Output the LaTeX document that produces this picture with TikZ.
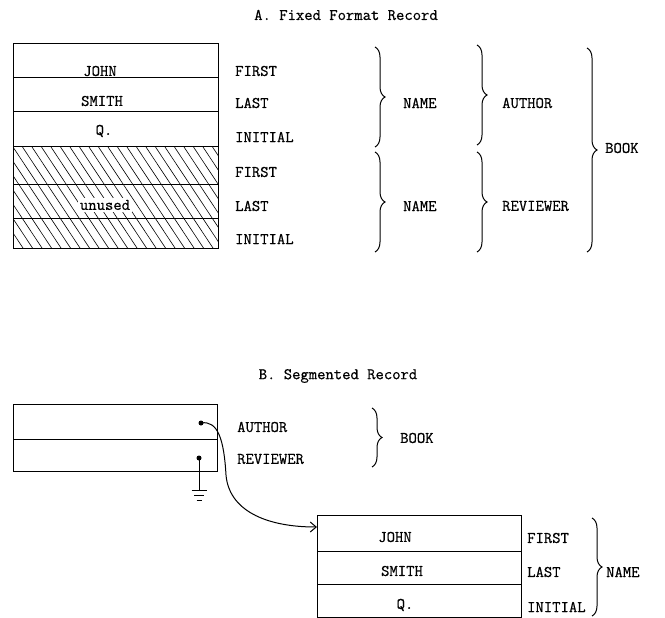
\documentclass[tikz,border=0pt]{standalone}
\usepackage{fontspec}
\newfontfamily\tw[FakeBold=0.6]{Latin Modern Mono}
\usetikzlibrary{decorations.pathreplacing,arrows.meta}
\tikzset{
  cell/.style={draw, line width=1pt, minimum width=205pt, inner sep=0pt, outer sep=0pt},
  txt/.style={inner sep=0pt, font=\tw\fontsize{16.2pt}{19pt}\selectfont},
  lbl/.style={txt, anchor=west},
  brc/.style={decorate, decoration={brace, amplitude=10pt}, line width=1pt},
  dotnode/.style={circle, fill=black, inner sep=0pt, minimum size=5pt},
  hatch/.style={line width=0.6pt},
}
\begin{document}
\begin{tikzpicture}[x=1pt, y=-1pt]
\useasboundingbox (0,0) rectangle (665,618);
% ---------- A ----------
\node[txt] (titleA) at (346,15) {A. Fixed Format Record};
% hatching
\begin{scope}
  \clip (13,147) rectangle (218,248);
  \foreach \i in {-8,...,22} \draw[hatch] (13+\i*9.5,147) -- ++(67,101);
\end{scope}
\node[cell, minimum height=34pt] (a1) at (115.5,61) {};
\node[cell, minimum height=34pt] (a2) at (115.5,95) {};
\node[cell, minimum height=35pt] (a3) at (115.5,129.5) {};
\node[cell, minimum height=37pt] (a4) at (115.5,165.5) {};
\node[cell, minimum height=34pt] (a5) at (115.5,201) {};
\node[cell, minimum height=30pt] (a6) at (115.5,233) {};
\node[txt] (tjohn) at (100,71) {JOHN};
\node[txt] (tsmith) at (102,101) {SMITH};
\node[txt] (tq) at (104,131) {Q.};
\node[txt, fill=white, inner sep=2pt] (tunused) at (105,205) {unused};
\node[lbl] (lf1) at (235,71) {FIRST};
\node[lbl] (ll1) at (235,103) {LAST};
\node[lbl] (li1) at (235,137) {INITIAL};
\node[lbl] (lf2) at (235,172) {FIRST};
\node[lbl] (ll2) at (235,206) {LAST};
\node[lbl] (li2) at (235,239) {INITIAL};
\draw[brc] (375,47) -- (375,147);
\node[lbl] (n1) at (403,103) {NAME};
\draw[brc] (375,152) -- (375,252);
\node[lbl] (n2) at (403,206) {NAME};
\draw[brc] (477,45) -- (477,145);
\node[lbl] (au) at (502,103) {AUTHOR};
\draw[brc] (477,152) -- (477,252);
\node[lbl] (rv) at (502,206) {REVIEWER};
\draw[brc] (587,48) -- (587,252);
\node[lbl] (bk) at (605,148) {BOOK};
% ---------- B ----------
\node[txt] (titleB) at (338,376) {B. Segmented Record};
\node[cell, minimum width=204pt, minimum height=35pt] (b1) at (115,421.5) {};
\node[cell, minimum width=204pt, minimum height=32pt] (b2) at (115,455) {};
\node[lbl] (bau) at (237,427) {AUTHOR};
\node[lbl] (brv) at (237,459) {REVIEWER};
\draw[brc] (372,408) -- (372,467);
\node[lbl] (bbk) at (400,438) {BOOK};
\node[dotnode] (adot) at (201,423) {};
\node[dotnode] (rdot) at (199,458) {};
\draw[line width=1pt] (rdot.center) -- (199,490) coordinate (gnd);
\draw[line width=0.9pt] ([xshift=-7.5pt]gnd) -- ([xshift=7.5pt]gnd);
\draw[line width=0.9pt] ([xshift=-5pt,yshift=-5pt]gnd) -- ([xshift=5pt,yshift=-5pt]gnd);
\draw[line width=0.9pt] ([xshift=-2.5pt,yshift=-10pt]gnd) -- ([xshift=2.5pt,yshift=-10pt]gnd);
% segment box
\node[cell, minimum width=204pt, minimum height=36pt] (c1) at (419,533) {};
\node[cell, minimum width=204pt, minimum height=33pt] (c2) at (419,567.5) {};
\node[cell, minimum width=204pt, minimum height=33pt] (c3) at (419,600.5) {};
\node[txt] (cjohn) at (395,537) {JOHN};
\node[txt] (csmith) at (402,571) {SMITH};
\node[txt] (cq) at (405,605) {Q.};
\node[lbl] (cf) at (527,538) {FIRST};
\node[lbl] (cl) at (527,572) {LAST};
\node[lbl] (ci) at (527,607) {INITIAL};
\draw[brc] (592,518) -- (592,616);
\node[lbl] (cn) at (606,572) {NAME};
% pointer
\draw[line width=1pt, -{Straight Barb[length=6pt,width=10pt]}]
  (adot.center) .. controls (218,420) and (224,440) .. (226,475)
  .. controls (229,510) and (265,527) .. ([yshift=6pt]c1.west);
\end{tikzpicture}
\end{document}
